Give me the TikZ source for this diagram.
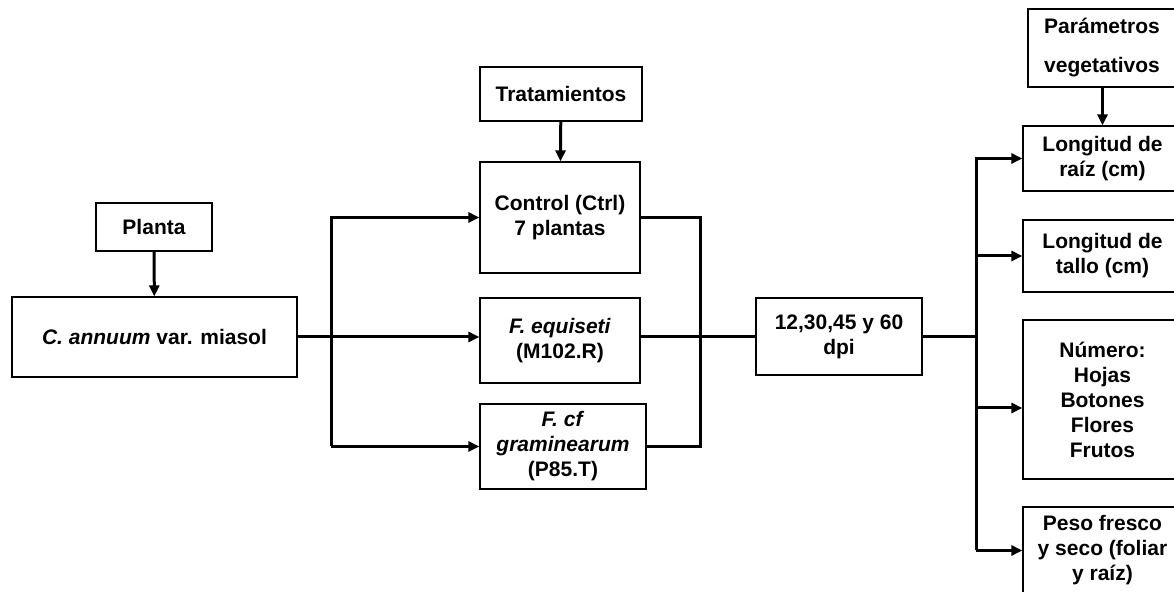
\documentclass[tikz,border=0pt]{standalone}
\usepackage{fontspec}
\setmainfont{Liberation Sans}
\usetikzlibrary{arrows.meta}
\begin{document}
\begin{tikzpicture}[x=0.5pt, y=-0.5pt, >={Triangle[length=5.5pt,width=5pt]},
    caja/.style={draw, line width=0.6pt, align=center, inner sep=1pt,
        font=\fontsize{10.5pt}{12.5pt}\selectfont\bfseries},
    linea/.style={line width=1.5pt},
    flecha/.style={line width=1.5pt, ->}]
\useasboundingbox (0,0) rectangle (1174,592);
% izquierda
\node[caja, minimum width=58pt, minimum height=24pt] (planta) at (154,227) {Planta};
\node[caja, minimum width=142.5pt, minimum height=40pt] (annuum) at (154.5,337) {\textit{C. annuum} var. miasol};
% tratamientos
\node[caja, minimum width=81pt, minimum height=27pt] (trat) at (561,94) {Tratamientos};
\node[caja, minimum width=80pt, minimum height=55.5pt] (control) at (560,217.5) {Control (Ctrl)\\7 plantas};
\node[caja, minimum width=80pt, minimum height=42.5pt] (equiseti) at (560,340.5) {\textit{F. equiseti}\\(M102.R)};
\node[caja, minimum width=83pt, minimum height=42.5pt] (gramin) at (563,446.5) {\textit{F. cf}\\\textit{graminearum}\\(P85.T)};
\node[caja, minimum width=83pt, minimum height=38.5pt] (dpi) at (839,336.5) {12,30,45 y 60\\dpi};
% parametros
\node[caja, minimum width=74pt, minimum height=39pt] (param) at (1102,48) {Parámetros\\[7pt]vegetativos};
\node[caja, minimum width=79.5pt, minimum height=32.5pt] (raiz) at (1102.5,158.5) {Longitud de\\raíz (cm)};
\node[caja, minimum width=79.5pt, minimum height=36pt] (tallo) at (1102.5,256) {Longitud de\\tallo (cm)};
\node[caja, minimum width=79.5pt, minimum height=79.5pt] (numero) at (1102.5,399.5) {Número:\\Hojas\\Botones\\Flores\\Frutos};
\node[caja, minimum width=79.5pt, minimum height=43.5pt] (peso) at (1102.5,550.5) {Peso fresco\\y seco (foliar\\y raíz)};
% conectores
\coordinate (splitL) at (331,337);
\coordinate (joinR) at (700,336.5);
\coordinate (splitR) at (976,336.5);
\draw[flecha] (planta) -- (annuum);
\draw[flecha] (trat) -- (control);
\draw[flecha] (param.south -| raiz.north) -- (raiz.north);
\draw[flecha] (annuum.east) -- (equiseti.west |- annuum.east);
\draw[flecha] (splitL |- gramin.west) -- (splitL |- control.west) -- (control.west);
\draw[flecha] (splitL |- gramin.west) -- (gramin.west);
\draw[linea] (control.east) -| (joinR |- gramin.east) -- (gramin.east);
\draw[linea] (equiseti.east |- dpi.west) -- (dpi.west);
\draw[linea] (dpi.east) -- (splitR);
\draw[flecha] (splitR |- peso.west) -- (splitR |- raiz.west) -- (raiz.west);
\draw[flecha] (splitR |- tallo.west) -- (tallo.west);
\draw[flecha] (splitR |- 0,408) -- (numero.west |- 0,408);
\draw[flecha] (splitR |- peso.west) -- (peso.west);
\end{tikzpicture}
\end{document}
